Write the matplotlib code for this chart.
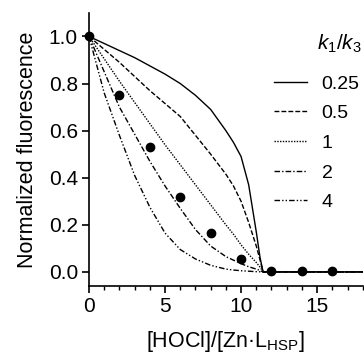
import matplotlib
matplotlib.use("Agg")
import matplotlib.pyplot as plt
from matplotlib.ticker import MultipleLocator

plt.rcParams['font.family'] = ['Liberation Sans', 'DejaVu Sans']
plt.rcParams['mathtext.fontset'] = 'custom'
plt.rcParams['mathtext.rm'] = 'Liberation Sans'
plt.rcParams['mathtext.it'] = 'Liberation Sans:italic'

# measured points
data_x = [0, 2, 4, 6, 8, 10, 12, 14, 16]
data_y = [1.0, 0.75, 0.53, 0.32, 0.165, 0.055, 0.005, 0.005, 0.005]

# model curves, one list per k1/k3 ratio
curve_x = [0, 1, 2, 3, 4, 5, 6, 7, 8, 9, 9.5, 10, 10.5, 11, 11.25, 11.45, 18]
curve_025 = [1, 0.97, 0.94, 0.91, 0.875, 0.84, 0.80, 0.75, 0.69, 0.60, 0.55,
             0.49, 0.37, 0.17, 0.06, 0, 0]
curve_05 = [1, 0.945, 0.89, 0.83, 0.77, 0.715, 0.66, 0.58, 0.50, 0.415, 0.365,
            0.30, 0.21, 0.11, 0.05, 0, 0]
curve_1 = [1, 0.905, 0.81, 0.72, 0.63, 0.54, 0.455, 0.37, 0.285, 0.20, 0.16,
           0.115, 0.075, 0.04, 0.02, 0, 0]
curve_2 = [1, 0.85, 0.70, 0.585, 0.47, 0.365, 0.27, 0.18, 0.11, 0.065, 0.05,
           0.035, 0.022, 0.012, 0.006, 0, 0]
curve_4 = [1, 0.76, 0.58, 0.41, 0.275, 0.165, 0.095, 0.055, 0.028, 0.012, 0.008,
           0.005, 0.003, 0.001, 0.0005, 0, 0]

ratio_labels = ['0.25', '0.5', '1', '2', '4']
curves = [curve_025, curve_05, curve_1, curve_2, curve_4]
styles = ['-', (0, (3.5, 1.5)), (0, (1, 1)), (0, (4, 1.5, 1, 1.5)),
          (0, (4, 1.5, 1, 1.5, 1, 1.5))]

fig = plt.figure(figsize=(3.64, 3.58), dpi=100)
ax = fig.add_axes([0.2445, 0.201, 0.752, 0.763])

handles = []
for ys, ls in zip(curves, styles):
    ln, = ax.plot(curve_x, ys, color='black', lw=1.0, linestyle=ls)
    handles.append(ln)

ax.plot(data_x, data_y, 'o', color='black', ms=6, zorder=5, clip_on=False)

ax.set_xlim(0, 18)
ax.set_ylim(-0.06, 1.10)
ax.set_yticks([0.0, 0.2, 0.4, 0.6, 0.8, 1.0])
ax.set_yticklabels(['0.0', '0.2', '0.4', '0.6', '0.8', '1.0'])
ax.set_xticks([0, 5, 10, 15])
ax.xaxis.set_minor_locator(MultipleLocator(1))

for s in ['top', 'right']:
    ax.spines[s].set_visible(False)
for s in ['left', 'bottom']:
    ax.spines[s].set_linewidth(1.2)

ax.tick_params(axis='both', which='major', length=5, width=1.2, labelsize=15,
               direction='out', pad=3)
ax.tick_params(axis='x', which='minor', length=3, width=1.0)

ax.set_ylabel('Normalized fluorescence', fontsize=15.5, labelpad=8)
ax.set_xlabel('[HOCl]/[Zn·L$_{\\mathregular{HSP}}$]', fontsize=15.5, labelpad=9)

# legend title drawn separately so the gap below it matches
fig.text(0.993, (358 - 44) / 358, '$k_1/k_3$', fontsize=15, ha='right', va='center')
leg = fig.legend(handles, ratio_labels, frameon=False,
                 loc='upper right', bbox_to_anchor=(0.988, (358 - 75) / 358),
                 fontsize=14, handlelength=1.7, handletextpad=0.75,
                 labelspacing=0.62, borderaxespad=0, borderpad=0)

fig.savefig('out.png', dpi=100)
